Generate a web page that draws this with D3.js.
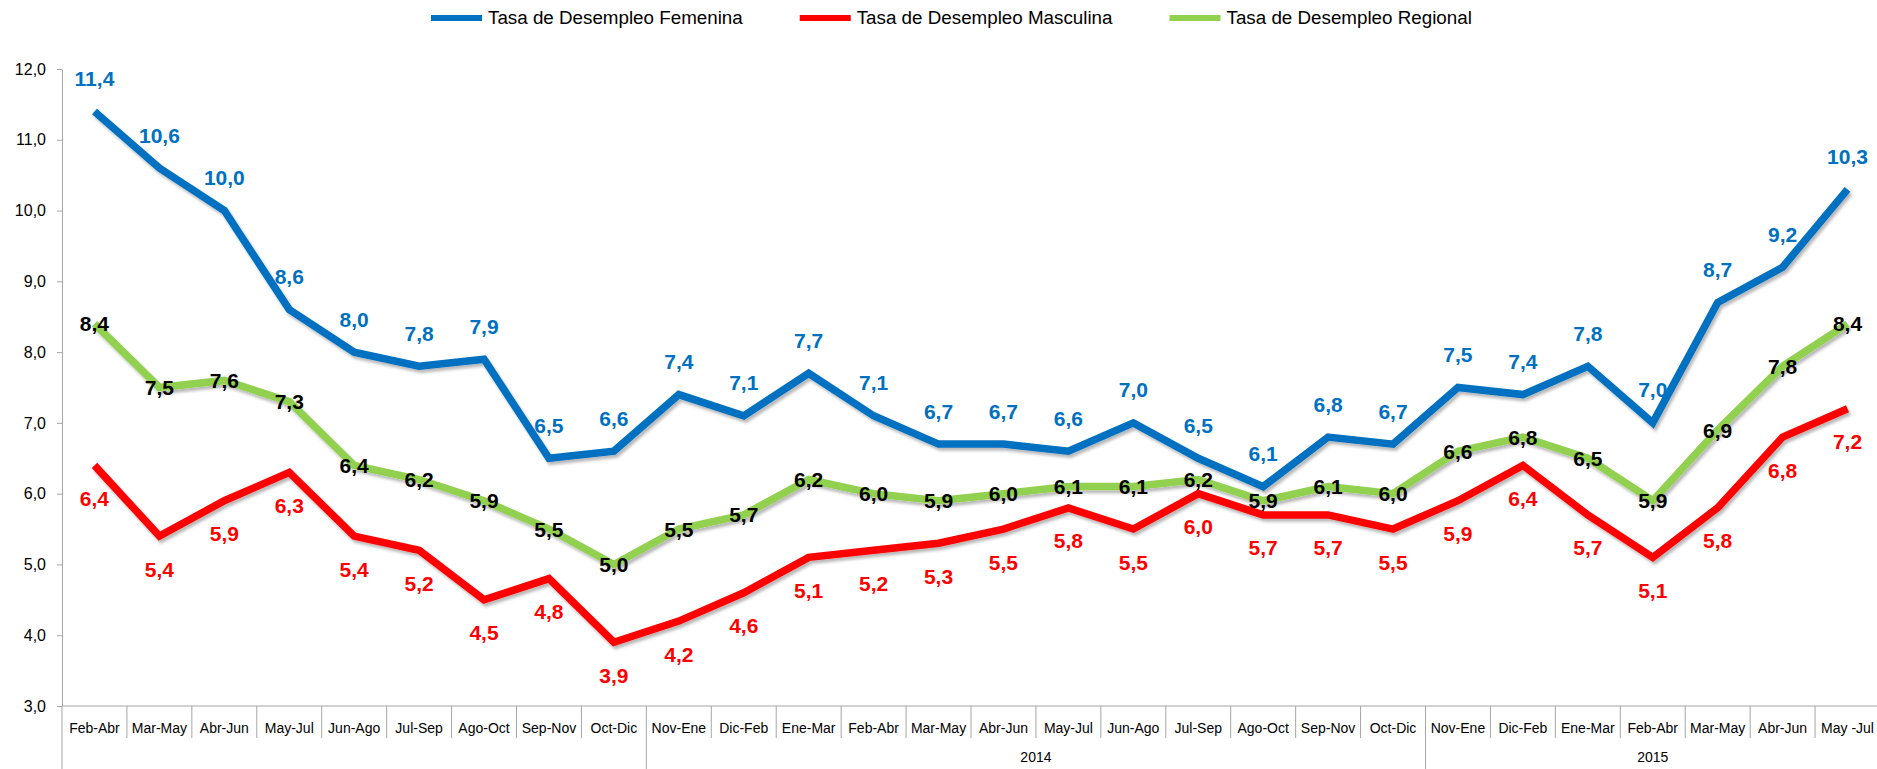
<!DOCTYPE html>
<html>
<head>
<meta charset="utf-8">
<script src="https://cdn.jsdelivr.net/npm/d3@7"></script>
<style>
  body { margin: 0; background: #fff; overflow: hidden; }
  text { font-family: "Liberation Sans", Arial, sans-serif; }
</style>
</head>
<body>
<div></div>
<script>
const width = 1877;
const height = 769;

// categorias (trimestres moviles)
const categories = ["Feb-Abr", "Mar-May", "Abr-Jun", "May-Jul", "Jun-Ago", "Jul-Sep", "Ago-Oct", "Sep-Nov", "Oct-Dic",
    "Nov-Ene", "Dic-Feb", "Ene-Mar", "Feb-Abr", "Mar-May", "Abr-Jun", "May-Jul", "Jun-Ago", "Jul-Sep", "Ago-Oct", "Sep-Nov", "Oct-Dic",
    "Nov-Ene", "Dic-Feb", "Ene-Mar", "Feb-Abr", "Mar-May", "Abr-Jun", "May -Jul"];

const yearLabels = ["", "2014", "2015"];
const yearStarts = [0, 9, 21];

const femenina = [11.4, 10.6, 10.0, 8.6, 8.0, 7.8, 7.9, 6.5, 6.6, 7.4, 7.1, 7.7, 7.1, 6.7, 6.7, 6.6, 7.0, 6.5, 6.1, 6.8, 6.7, 7.5, 7.4, 7.8, 7.0, 8.7, 9.2, 10.3];
const masculina = [6.4, 5.4, 5.9, 6.3, 5.4, 5.2, 4.5, 4.8, 3.9, 4.2, 4.6, 5.1, 5.2, 5.3, 5.5, 5.8, 5.5, 6.0, 5.7, 5.7, 5.5, 5.9, 6.4, 5.7, 5.1, 5.8, 6.8, 7.2];
const regional = [8.4, 7.5, 7.6, 7.3, 6.4, 6.2, 5.9, 5.5, 5.0, 5.5, 5.7, 6.2, 6.0, 5.9, 6.0, 6.1, 6.1, 6.2, 5.9, 6.1, 6.0, 6.6, 6.8, 6.5, 5.9, 6.9, 7.8, 8.4];

const yTicks = [3, 4, 5, 6, 7, 8, 9, 10, 11, 12];

const series = [
    {name: "Tasa de Desempleo Femenina", values: femenina, color: "#0070C0", labelColor: "#0070C0", dy: -33},
    {name: "Tasa de Desempleo Masculina", values: masculina, color: "#FF0000", labelColor: "#FF0000", dy: 33},
    {name: "Tasa de Desempleo Regional", values: regional, color: "#92D050", labelColor: "#000", dy: 0}
];

const es = d3.formatLocale({decimal: ",", thousands: ".", grouping: [3], currency: ["", ""]});
const fmt = es.format(".1f");

const x = d3.scaleBand()
    .domain(d3.range(categories.length))
    .range([62, 1880])
    .paddingInner(0)
    .paddingOuter(0);

const y = d3.scaleLinear()
    .domain([3, 12])
    .range([706, 69]);

const svg = d3.select("body>div").append("svg")
    .attr("width", width)
    .attr("height", height)
    .attr("viewBox", [0, 0, width, height]);

const defs = svg.append("defs");
defs.append("filter")
    .attr("id", "shadow")
    .attr("x", "-5%").attr("y", "-5%")
    .attr("width", "110%").attr("height", "115%")
    .append("feDropShadow")
    .attr("dx", 2).attr("dy", 3)
    .attr("stdDeviation", 1.8)
    .attr("flood-color", "#000")
    .attr("flood-opacity", 0.28);

// eje Y
const yAxis = svg.append("g")
    .attr("transform", "translate(62,0)")
    .call(d3.axisLeft(y).tickValues(yTicks).tickFormat(fmt).tickSize(5).tickSizeOuter(0));
yAxis.select(".domain").attr("stroke", "#a6a6a6");
yAxis.selectAll(".tick line").attr("stroke", "#a6a6a6");
yAxis.selectAll(".tick text")
    .attr("x", -16)
    .attr("fill", "#000")
    .style("font-size", "16px")
    .style("font-family", "'Liberation Sans', Arial, sans-serif");

// eje X (multinivel)
const xAxis = svg.append("g");
xAxis.append("line")
    .attr("x1", 62).attr("x2", width)
    .attr("y1", y(3)).attr("y2", y(3))
    .attr("stroke", "#a6a6a6");

xAxis.selectAll("line.sep")
    .data(d3.range(1, categories.length))
    .join("line")
    .attr("class", "sep")
    .attr("x1", d => x(d)).attr("x2", d => x(d))
    .attr("y1", y(3))
    .attr("y2", d => yearStarts.includes(d) ? height : 738)
    .attr("stroke", "#a6a6a6");

xAxis.append("line")
    .attr("x1", 62).attr("x2", 62)
    .attr("y1", y(3)).attr("y2", height)
    .attr("stroke", "#a6a6a6");

xAxis.selectAll("text.cat")
    .data(categories)
    .join("text")
    .attr("class", "cat")
    .attr("x", (d, i) => x(i) + x.bandwidth() / 2)
    .attr("y", 733)
    .attr("text-anchor", "middle")
    .style("font-size", "14px")
    .text(d => d);

xAxis.selectAll("text.year")
    .data(yearLabels)
    .join("text")
    .attr("class", "year")
    .attr("x", (d, i) => {
        const s = yearStarts[i];
        const e = i + 1 < yearStarts.length ? yearStarts[i + 1] : categories.length;
        return (x(s) + x(e - 1) + x.bandwidth()) / 2;
    })
    .attr("y", 762)
    .attr("text-anchor", "middle")
    .style("font-size", "14px")
    .text(d => d);

// lineas
const line = d3.line()
    .x((d, i) => x(i) + x.bandwidth() / 2)
    .y(d => y(d));

svg.append("g")
    .selectAll("path")
    .data(series)
    .join("path")
    .attr("fill", "none")
    .attr("stroke", d => d.color)
    .attr("stroke-width", 7.5)
    .attr("stroke-linejoin", "miter")
    .attr("stroke-linecap", "butt")
    .attr("filter", "url(#shadow)")
    .attr("d", d => line(d.values));

// etiquetas de datos
const labels = svg.append("g");
series.forEach(s => {
    labels.append("g")
        .selectAll("text")
        .data(s.values)
        .join("text")
        .attr("x", (d, i) => x(i) + x.bandwidth() / 2)
        .attr("y", d => y(d) + s.dy)
        .attr("dy", "0.36em")
        .attr("text-anchor", "middle")
        .attr("fill", s.labelColor)
        .style("font-size", "21px")
        .style("font-weight", "bold")
        .text(d => fmt(d));
});

// leyenda
const legend = svg.append("g");
let lx = 431;
series.forEach(s => {
    const item = legend.append("g").attr("transform", `translate(${lx},0)`);
    item.append("rect")
        .attr("x", 0).attr("y", 15)
        .attr("width", 51).attr("height", 6)
        .attr("fill", s.color);
    const t = item.append("text")
        .attr("x", 57).attr("y", 24)
        .attr("fill", "#000")
        .style("font-size", "18.8px")
        .text(s.name);
    lx += 57 + t.node().getComputedTextLength() + 57;
});
</script>
</body>
</html>
